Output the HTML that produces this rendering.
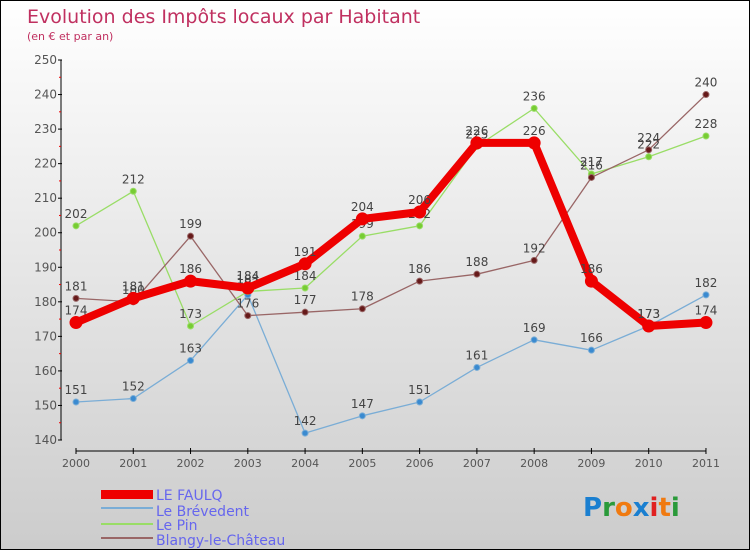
<!DOCTYPE html>
<html><head><meta charset="utf-8"><style>
body{margin:0}
#c{width:748px;height:548px;border:1px solid #000;background:linear-gradient(#fff,#ccc);position:relative;font-family:"DejaVu Sans","Liberation Sans",sans-serif}
</style></head><body>
<div id="c">
<svg width="748" height="548" style="position:absolute;left:0;top:0">
<text x="26" y="22" font-size="19" fill="#c03060">Evolution des Impôts locaux par Habitant</text>
<text x="26" y="39" font-size="11" fill="#c03060">(en € et par an)</text>
<g id="axes"></g><g id="series"></g>
<g>
<rect x="100" y="489" width="52" height="9" fill="#e00"/>
<text x="155" y="499" font-size="14" fill="#6666ee">LE FAULQ</text>
<line x1="100" y1="507" x2="152" y2="507" stroke="#7aadd6" stroke-width="2"/>
<text x="155" y="515" font-size="14" fill="#6666ee">Le Brévedent</text>
<line x1="100" y1="523" x2="152" y2="523" stroke="#99dd66" stroke-width="2"/>
<text x="155" y="529" font-size="14" fill="#6666ee">Le Pin</text>
<line x1="100" y1="537" x2="152" y2="537" stroke="#996666" stroke-width="2"/>
<text x="155" y="544" font-size="14" fill="#6666ee">Blangy-le-Château</text>
</g>
<g font-size="26" font-weight="bold">
<text x="582" y="515"><tspan fill="#1a7fd0">P</tspan><tspan fill="#2a9a3a">r</tspan><tspan fill="#f07a10">o</tspan><tspan fill="#1a7fd0">x</tspan><tspan fill="#e02020">i</tspan><tspan fill="#f07a10">t</tspan><tspan fill="#2a9a3a">i</tspan></text>
</g>
</svg>
</div>
<script>
const years=["2000","2001","2002","2003","2004","2005","2006","2007","2008","2009","2010","2011"];
const yTicks=[140,150,160,170,180,190,200,210,220,230,240,250];
const faulq=[174,181,186,184,191,204,206,226,226,186,173,174];
const brevedent=[151,152,163,182,142,147,151,161,169,166,173,182];
const lepin=[202,212,173,183,184,199,202,225,236,217,222,228];
const blangy=[181,180,199,176,177,178,186,188,192,216,224,240];
const NS="http://www.w3.org/2000/svg";
const X=i=>75+i*57.27, Y=v=>439-(v-140)*3.4545;
function mk(t,a,p){const e=document.createElementNS(NS,t);for(const k in a)e.setAttribute(k,a[k]);p.appendChild(e);return e;}
const ax=document.getElementById('axes');
let l=mk('line',{x1:60,y1:Y(250),x2:60,y2:Y(140),stroke:'#000'},ax);


yTicks.forEach((v,i)=>{
 mk('line',{x1:57,x2:61,y1:Y(v),y2:Y(v),stroke:'#000'},ax);
 if(i<yTicks.length-1)mk('line',{x1:58,x2:60,y1:Y(v+5),y2:Y(v+5),stroke:'#e00'},ax);
 const t=mk('text',{x:56,y:Y(v)+4,'text-anchor':'end','font-size':12,fill:'#555'},ax);t.textContent=v;
 
 
});
l=mk('line',{x1:X(0),y1:450,x2:X(11),y2:450,stroke:'#000'},ax);


years.forEach((y,i)=>{
 mk('line',{x1:X(i),x2:X(i),y1:447,y2:453,stroke:'#000'},ax);
 const t=mk('text',{x:X(i),y:466,'text-anchor':'middle','font-size':11,fill:'#555'},ax);t.textContent=y;
 
 
});
const sg=document.getElementById('series');
function series(d,col,w,r,dot,name){
 const g=mk('g',{},sg);
 
 
 mk('polyline',{points:d.map((v,i)=>X(i)+','+Y(v)).join(' '),fill:'none',stroke:col,'stroke-width':w,'stroke-linejoin':'round'},g);
 d.forEach((v,i)=>{
  const c=mk('circle',{cx:X(i),cy:Y(v),r:r,fill:dot,stroke:col,'stroke-width':1},g);
  
  
  const t=mk('text',{x:X(i),y:Y(v)-8,'text-anchor':'middle','font-size':12,fill:'#444'},g);t.textContent=v;
  
  
 });
}
series(brevedent,'#7aadd6',1.3,3,'#3a8ad0','series-le-brevedent');
series(lepin,'#99dd66',1.3,3,'#77cc33','series-le-pin');
series(blangy,'#996666',1.3,3,'#661a1a','series-blangy');
series(faulq,'#e00',8,6,'#e00','series-le-faulq');
</script>
</body></html>
